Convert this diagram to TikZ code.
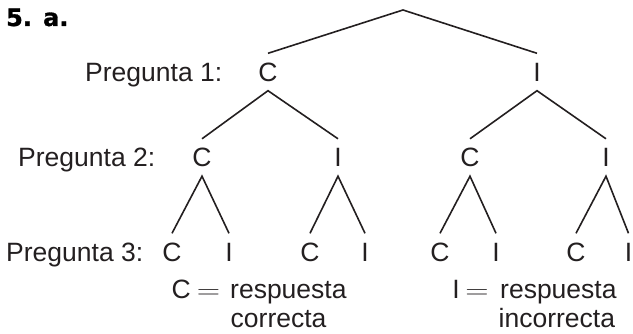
\documentclass[tikz,border=0pt]{standalone}
\usepackage{fontspec}
\setmainfont{Liberation Sans}
\newfontfamily\headfont{DejaVu Sans Bold}[FakeBold=1.2]
\usepackage{graphicx}
\definecolor{ink}{HTML}{231F20}
\begin{document}
\begin{tikzpicture}[x=1pt,y=-1pt,
  every node/.style={text=ink, font=\fontsize{26.5}{30}\selectfont, inner sep=0pt},
  letter/.style={anchor=base, text height=19pt, text depth=0pt, inner ysep=9pt, inner xsep=0pt},
  lbl/.style={anchor=base west},
  head/.style={anchor=base west, font=\headfont\fontsize{24}{28}\selectfont, text=black},
  branch/.style={draw=ink, line width=1.6pt}]
\useasboundingbox (0,0) rectangle (633,334);
% heading
\node[head] (h) at (6,26) {5. a.};
% row labels
\node[lbl] (p1) at (85,81.5) {Pregunta 1:};
\node[lbl] (p2) at (18,167) {Pregunta 2:};
\node[lbl] (p3) at (6,261.5) {Pregunta 3:};
% level 1
\coordinate (root) at (403,10);
\node[letter] (c1) at (268,81.5) {C};
\node[letter] (i1) at (537,81.5) {I};
% level 2
\node[letter] (cc) at (202,167) {C};
\node[letter] (ci) at (338,167) {I};
\node[letter] (ic) at (470,167) {C};
\node[letter] (ii) at (606,167) {I};
% level 3
\node[letter] (ccc) at (172,261.5) {C};
\node[letter] (cci) at (229,261.5) {I};
\node[letter] (cic) at (310,261.5) {C};
\node[letter] (cii) at (365,261.5) {I};
\node[letter] (icc) at (440,261.5) {C};
\node[letter] (ici) at (496,261.5) {I};
\node[letter] (iic) at (576,261.5) {C};
\node[letter] (iii) at (628.5,261.5) {I};
% branches
\draw[branch] (c1.north) -- (root) -- (i1.north);
\draw[branch] (cc.north) -- (c1.south) -- (ci.north);
\draw[branch] (ic.north) -- (i1.south) -- (ii.north);
\draw[branch] (ccc.north) -- (cc.south) -- (cci.north);
\draw[branch] (cic.north) -- (ci.south) -- (cii.north);
\draw[branch] (icc.north) -- (ic.south) -- (ici.north);
\draw[branch] (iic.north) -- (ii.south) -- (iii.north);
% legend
\node[lbl] (lc) at (171.5,299) {C};
\node[anchor=base] (leq1) at (208.5,299) {\scalebox{1.3}[1]{$=$}};
\node[lbl] (lr1) at (230,299) {respuesta};
\node[lbl] (lr2) at (230.5,328) {correcta};
\node[anchor=base] (li) at (456,299) {I};
\node[anchor=base] (leq2) at (477,299) {\scalebox{1.3}[1]{$=$}};
\node[lbl] (lr3) at (500,299) {respuesta};
\node[lbl] (lr4) at (498.5,328) {incorrecta};
\end{tikzpicture}
\end{document}
